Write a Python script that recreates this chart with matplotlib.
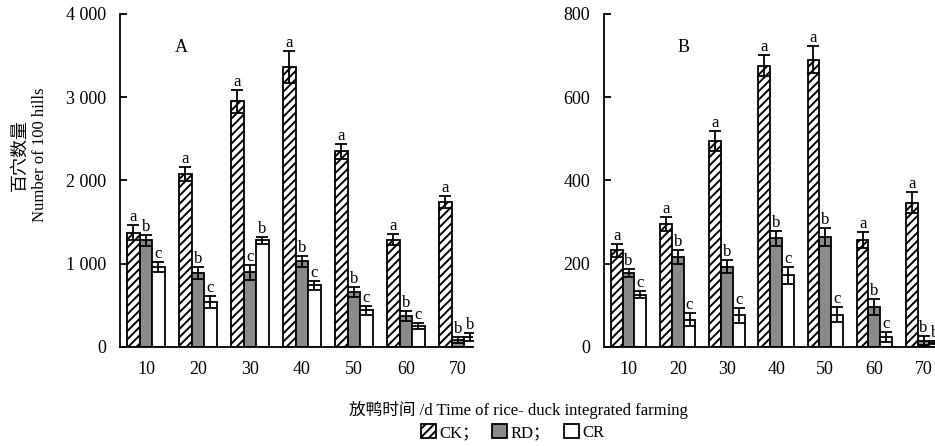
import matplotlib
matplotlib.use("Agg")
import matplotlib.pyplot as plt
import numpy as np
from matplotlib.patches import Patch
from matplotlib.ticker import FuncFormatter

plt.rcParams['font.family'] = ['Liberation Serif', 'Noto Sans CJK SC', 'DejaVu Sans']
plt.rcParams['hatch.linewidth'] = 1.4

days = ["10", "20", "30", "40", "50", "60", "70"]
series = ["CK", "RD", "CR"]

# panel A
ck_a = [1370, 2080, 2950, 3360, 2350, 1290, 1740]
ck_a_err = [90, 85, 135, 195, 90, 65, 75]
rd_a = [1280, 890, 900, 1030, 660, 370, 85]
rd_a_err = [70, 75, 90, 65, 60, 60, 35]
cr_a = [960, 540, 1280, 740, 440, 250, 120]
cr_a_err = [65, 75, 40, 55, 55, 40, 50]
letters_a = [["a", "b", "c"], ["a", "b", "c"], ["a", "c", "b"], ["a", "b", "c"],
             ["a", "b", "c"], ["a", "b", "c"], ["a", "b", "b"]]

# panel B
ck_b = [232, 296, 494, 675, 690, 256, 346]
ck_b_err = [16, 17, 24, 25, 33, 19, 25]
rd_b = [178, 216, 193, 261, 264, 96, 15]
rd_b_err = [10, 16, 15, 18, 21, 20, 11]
cr_b = [126, 66, 76, 172, 78, 25, 10]
cr_b_err = [9, 15, 18, 20, 18, 12, 4]
letters_b = [["a", "b", "c"]] * 6 + [["a", "b", "b"]]

fig = plt.figure(figsize=(9.35, 4.46), dpi=100)
ax_a = fig.add_axes([0.1283, 0.222, 0.3775, 0.747])
ax_b = fig.add_axes([0.646, 0.222, 0.357, 0.747])

styles = [dict(facecolor="white", hatch="////"),
          dict(facecolor="#8a8a8a", hatch=None),
          dict(facecolor="white", hatch=None)]
width = 0.24


def draw_panel(ax, vals, errs, letters, ymax, step, label):
    x = np.arange(len(days))
    for k in range(3):
        xs = x + (k - 1) * width
        ax.bar(xs, vals[k], width, edgecolor="black", linewidth=1.3, **styles[k])
        ax.errorbar(xs, vals[k], yerr=errs[k], fmt="none", ecolor="black",
                    elinewidth=1.3, capsize=4, capthick=1.3)
        for i in range(len(days)):
            ax.annotate(letters[i][k], (xs[i], vals[k][i] + errs[k][i]),
                        xytext=(0, 0), textcoords="offset points",
                        ha="center", va="bottom", fontsize=12)
    ax.set_xlim(-0.5, 6.29)
    ax.set_ylim(0, ymax)
    ax.set_yticks(np.arange(0, ymax + 1, step))
    ax.yaxis.set_major_formatter(FuncFormatter(
        lambda v, p: f"{int(v):,}".replace(",", " ")))
    ax.set_xticks(x)
    ax.set_xticklabels(days)
    ax.tick_params(axis="x", length=0, pad=10, labelsize=13)
    ax.tick_params(axis="y", direction="in", length=5, width=1.3, labelsize=13, pad=10)
    for s in ["top", "right"]:
        ax.spines[s].set_visible(False)
    for s in ["left", "bottom"]:
        ax.spines[s].set_linewidth(1.3)
    ax.text(label[1], 0.898, label[0], transform=ax.transAxes,
            ha="center", va="center", fontsize=13)


draw_panel(ax_a, [ck_a, rd_a, cr_a], [ck_a_err, rd_a_err, cr_a_err],
           letters_a, 4000, 1000, ("A", 0.173))
draw_panel(ax_b, [ck_b, rd_b, cr_b], [ck_b_err, rd_b_err, cr_b_err],
           letters_b, 800, 200, ("B", 0.237))

fig.text(0.021, 0.652, "百穴数量", rotation=90, ha="center", va="center", fontsize=13)
fig.text(0.043, 0.652, "Number of 100 hills", rotation=90, ha="center", va="center", fontsize=12)
fig.text(0.554, 0.08, "放鸭时间 /d Time of rice- duck integrated farming",
         ha="center", va="center", fontsize=12)

handles = [Patch(edgecolor="black", linewidth=1.3, **styles[k]) for k in range(3)]
fig.legend(handles, ["CK；", "RD；", "CR"], loc="center", bbox_to_anchor=(0.548, 0.03),
           ncol=3, frameon=False, fontsize=12, handlelength=0.9, handleheight=0.9,
           handletextpad=0.2, columnspacing=0.8)

fig.savefig("out.png", dpi=100)
